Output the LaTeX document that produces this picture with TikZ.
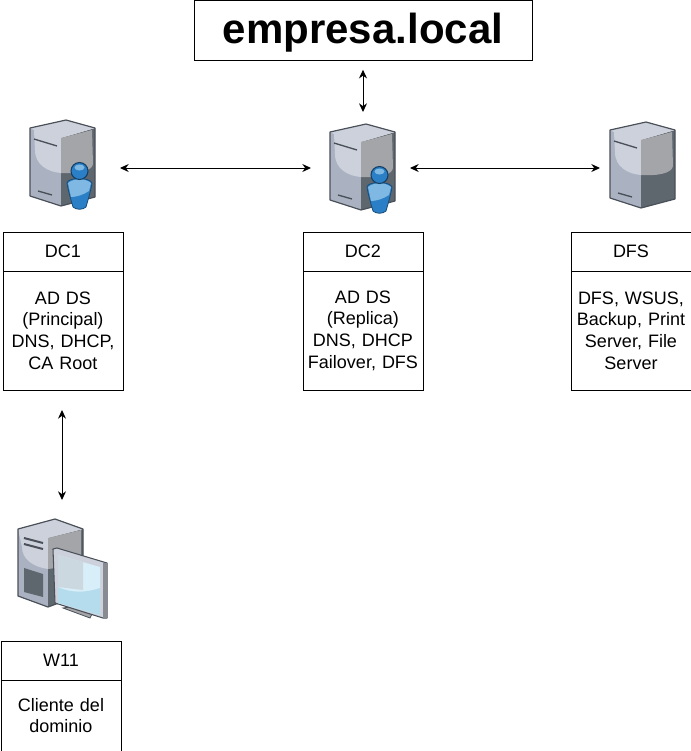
\documentclass[tikz,border=0pt]{standalone}
\usepackage{fontspec}
\setmainfont{Liberation Sans}
\usepackage{tikz}
\usetikzlibrary{positioning,arrows.meta}
\definecolor{edgegray}{HTML}{4A5058}
\definecolor{leftlow}{HTML}{AAB2C2}
\definecolor{lefthigh}{HTML}{CDD1DC}
\definecolor{rightlow}{HTML}{5E666E}
\definecolor{righthigh}{HTML}{A3A5A8}
\definecolor{persondark}{HTML}{2A7FC6}
\definecolor{personlight}{HTML}{7FB8E2}
\definecolor{screenblue}{HTML}{B5DCEC}
\definecolor{screenpale}{HTML}{CBD8E0}
\definecolor{screenlight}{HTML}{D8EEF8}
\tikzset{
  boxhead/.style={draw=black,line width=.75pt,outer sep=0pt,minimum width=90pt,minimum height=29.25pt,font=\fontsize{13.5}{16.2}\selectfont},
  boxbody/.style={draw=black,line width=.75pt,outer sep=0pt,inner sep=3pt,minimum width=90pt,minimum height=89.25pt,text width=84pt,align=center,font=\fontsize{13.5}{16.2}\selectfont},
  titlebox/.style={draw=black,line width=.75pt,outer sep=0pt,minimum width=253.5pt,minimum height=45.4pt,text height=26pt,text depth=7.2pt,font=\fontsize{31.5}{36}\selectfont\bfseries},
  iconbox/.style={minimum width=60pt,minimum height=84pt,inner sep=0pt,outer sep=0pt},
  link/.style={{Stealth[length=6.5pt,width=6pt]}-{Stealth[length=6.5pt,width=6pt]},line width=.75pt},
  vent/.style={line width=1pt,draw=edgegray},
  srv/.pic={
    \fill[leftlow] (0,8) -- (31,18) -- (31,86) -- (0,76) -- cycle;
    \fill[rightlow] (31,18) -- (65,8) -- (65,77) -- (31,86) -- cycle;
    \fill[lefthigh] (0,8) -- (36,0) -- (65,8) -- (31,18) -- (31,53) .. controls (18,52) and (5,45) .. (5,30) -- (4,10) -- cycle;
    \fill[righthigh] (31,18) -- (62,10) -- (63,44) .. controls (62,52) and (45,54) .. (31,53) -- cycle;
    \draw[line width=.9pt,draw=edgegray,line join=round] (0,8) -- (36,0) -- (65,8) -- (65,77) -- (31,86) -- (0,76) -- cycle;
    \draw[vent] (4,19) -- (27,26);
    \draw[vent] (8,71) -- (22,75);
  },
  person/.pic={
    \fill[persondark,draw=persondark!60!black,line width=.6pt] (37,63) .. controls (38,57) and (60,57) .. (62,63) .. controls (61,70) and (58,80) .. (56,87) .. controls (53,90) and (46,90) .. (43,87) .. controls (41,80) and (38,70) .. (37,63) -- cycle;
    \fill[personlight] (38,63) .. controls (44,58) and (55,58) .. (61,63) -- (59,71) .. controls (53,75) and (46,77) .. (41,77) -- cycle;
    \fill[persondark,draw=persondark!50!black,line width=.8pt] (49.5,51) circle [radius=8.5];
    \fill[personlight] (49.5,47.5) ellipse [x radius=5,y radius=3];
  },
  wks/.pic={
    \fill[leftlow] (0,10) -- (30,19) -- (30,88) -- (0,77) -- cycle;
    \fill[rightlow] (30,19) -- (65,10) -- (65,75) -- (30,88) -- cycle;
    \fill[lefthigh] (0,10) -- (37,0) -- (65,10) -- (30,19) -- (30,50) .. controls (15,48) and (4,40) .. (4,28) -- cycle;
    \fill[righthigh] (30,19) -- (63,11) -- (63,46) -- (30,50) -- cycle;
    \draw[line width=.9pt,draw=edgegray,line join=round] (0,10) -- (37,0) -- (65,10) -- (65,75) -- (30,88) -- (0,77) -- cycle;
    \draw[line width=1.5pt,draw=edgegray] (6,19) -- (25,24);
    \draw[line width=1.5pt,draw=edgegray] (6,25) -- (25,30);
    \fill[rightlow] (6,49) -- (25,55) -- (25,78) -- (6,73) -- cycle;
    \fill[righthigh,draw=edgegray,line width=.6pt] (45,89) -- (52,88) -- (74,95) -- (72,99) -- cycle;
    \fill[lefthigh,draw=edgegray,line width=.8pt,line join=round] (35,30) -- (39,29) -- (89,44) -- (89,99) -- (85,99) -- (37,84) -- cycle;
    \fill[righthigh!70!edgegray] (85,44) -- (89,44) -- (89,99) -- (85,99) -- cycle;
    \fill[screenlight] (40,36) -- (82,48) -- (82,96) -- (40,84) -- cycle;
    \fill[screenpale] (40,36) -- (65,43) -- (65,71) -- (40,68) -- cycle;
    \fill[screenblue] (40,68) .. controls (52,74) and (68,74) .. (82,69) -- (82,96) -- (40,84) -- cycle;
  }
}
\begin{document}
\begin{tikzpicture}[x=.75pt,y=-.75pt,node distance=0pt]
  \useasboundingbox (0,0) rectangle (691,751);
  \node[titlebox] (domain) at (363,30.5) {empresa.local};
  \node[boxhead] (dc1head) at (63,251.5) {DC1};
  \node[boxbody,below=of dc1head] (dc1body) {AD DS\\(Principal)\\DNS, DHCP,\\CA Root};
  \node[boxhead] (dc2head) at (363,251.5) {DC2};
  \node[boxbody,below=of dc2head] (dc2body) {AD DS\\(Replica)\\DNS, DHCP\\Failover, DFS};
  \node[boxhead] (dfshead) at (631,251.5) {DFS};
  \node[boxbody,below=of dfshead] (dfsbody) {DFS, WSUS,\\Backup, Print\\Server, File\\Server};
  \node[boxhead] (w11head) at (61,660.5) {W11};
  \node[boxbody,minimum height=53.25pt,below=of w11head] (w11body) {Cliente del\\dominio};
  % icons
  \node[iconbox] (dc1srv) at (62,168) {};
  \node[iconbox] (dc2srv) at (363,168) {};
  \node[iconbox] (dfssrv) at (650,168) {};
  \node[iconbox] (w11srv) at (62,568) {};
  \pic at (30,120) {srv};
  \pic at (30,120) {person};
  \pic at (330,124) {srv};
  \pic at (330,124) {person};
  \pic at (610,122) {srv};
  \pic at (18,519) {wks};
  % links
  \draw[link,shorten <=6.75pt] (domain.south) -- (dc2srv.north);
  \draw[link,shorten <=13.5pt,shorten >=9pt] (dc1srv) -- (dc2srv);
  \draw[link,shorten <=5.25pt,shorten >=7.5pt] (dc2srv) -- (dfssrv);
  \draw[link,shorten <=15pt,shorten >=9pt] (dc1body.south -| dc1srv) -- (w11srv.north);
\end{tikzpicture}
\end{document}
